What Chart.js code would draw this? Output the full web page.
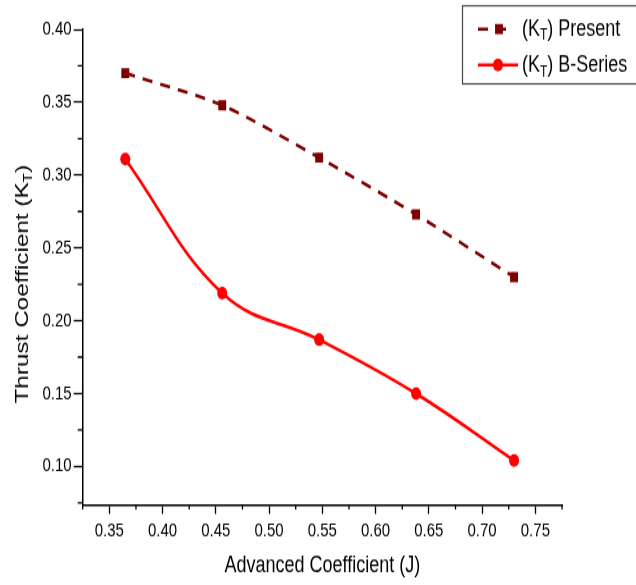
<!DOCTYPE html>
<html>
<head>
<meta charset="utf-8">
<script src="https://cdn.jsdelivr.net/npm/chart.js@4.4.1/dist/chart.umd.min.js"></script>
<style>
html,body{margin:0;padding:0;background:#fff}
body{width:636px;height:585px;overflow:hidden}
/* the reference picture is stretched vertically, so the whole canvas is too */
#wrap{width:636px;height:457px;transform:scaleY(1.28);transform-origin:0 0}
</style>
</head>
<body>
<div id="wrap"><canvas id="c" width="636" height="457"></canvas></div>
<script>
// valores
const advanceJ = [0.365, 0.456, 0.547, 0.638, 0.730];
const ktPresent = [0.370, 0.348, 0.312, 0.273, 0.230];
const ktBSeries = [0.311, 0.219, 0.187, 0.150, 0.104];
const xTickValues = [0.35, 0.40, 0.45, 0.50, 0.55, 0.60, 0.65, 0.70, 0.75];
const yTickValues = [0.10, 0.15, 0.20, 0.25, 0.30, 0.35, 0.40];

const FONT = 'Liberation Sans, Arial, sans-serif';

function toPoints(xs, ys){ return xs.map((x,i)=>({x:x, y:ys[i]})); }

// texto com subscrito: parts = [[texto, subscrito?], ...]
function partsWidth(ctx, parts, size, subSize){
  let w = 0;
  parts.forEach(p=>{
    ctx.font = (p[1] ? subSize : size) + 'px ' + FONT;
    w += ctx.measureText(p[0]).width;
  });
  return w;
}
function drawParts(ctx, parts, x, y, size, subSize){
  parts.forEach(p=>{
    ctx.font = (p[1] ? subSize : size) + 'px ' + FONT;
    ctx.fillText(p[0], x, p[1] ? y + size*0.3 : y);
    x += ctx.measureText(p[0]).width;
  });
}

// ticks menores nos dois eixos
const minorTicks = {
  id:'minorTicks',
  afterDraw(chart){
    const {ctx, scales:{x, y}} = chart;
    ctx.save();
    ctx.strokeStyle = '#000';
    ctx.lineWidth = 1.3;
    ctx.beginPath();
    for(let i=0;i<10;i++){
      const px = x.getPixelForValue(0.325 + i*0.05);
      ctx.moveTo(px, y.bottom); ctx.lineTo(px, y.bottom + 3.5);
    }
    for(let i=0;i<7;i++){
      const py = y.getPixelForValue(0.075 + i*0.05);
      ctx.moveTo(x.left, py); ctx.lineTo(x.left - 5, py);
    }
    ctx.stroke();
    ctx.restore();
  }
};

// título do eixo Y e legenda com subscrito
const labels = {
  id:'labels',
  afterDraw(chart){
    const ctx = chart.ctx;
    ctx.save();
    ctx.fillStyle = '#000';
    ctx.textBaseline = 'middle';
    ctx.textAlign = 'left';

    const yTitle = [['Thrust Coefficient (K',false],['T',true],[')',false]];
    ctx.translate(23, 222);
    ctx.rotate(-Math.PI/2);
    const w = partsWidth(ctx, yTitle, 19, 12);
    drawParts(ctx, yTitle, -w/2, 0, 19, 12);
    ctx.setTransform(1,0,0,1,0,0);

    // caixa da legenda
    ctx.strokeStyle = '#444';
    ctx.lineWidth = 1.2;
    ctx.strokeRect(462.5, 4.5, 200, 61);

    const entries = [
      {ds:chart.data.datasets[0], y:22.7, x0:478, x1:510, px:499, parts:[['(K',false],['T',true],[') Present',false]]},
      {ds:chart.data.datasets[1], y:50.8, x0:478, x1:518, px:498, parts:[['(K',false],['T',true],[') B-Series',false]]}
    ];
    entries.forEach(e=>{
      ctx.save();
      ctx.strokeStyle = e.ds.borderColor;
      ctx.lineWidth = e.ds.borderWidth;
      ctx.setLineDash(e.ds.borderDash || []);
      ctx.beginPath(); ctx.moveTo(e.x0, e.y); ctx.lineTo(e.x1, e.y); ctx.stroke();
      ctx.setLineDash([]);
      ctx.fillStyle = e.ds.pointBackgroundColor;
      Chart.helpers.drawPoint(ctx, {pointStyle:e.ds.pointStyle, radius:e.ds.pointRadius, rotation:0, borderWidth:0}, e.px, e.y);
      ctx.restore();
      ctx.fillStyle = '#000';
      drawParts(ctx, e.parts, 522, e.y, 18, 12);
    });
    ctx.restore();
  }
};

new Chart(document.getElementById('c'), {
  type:'line',
  data:{
    datasets:[
      {
        label:'(KT) Present',
        data:toPoints(advanceJ, ktPresent),
        borderColor:'#7f0000',
        borderWidth:2.6,
        borderDash:[10,8],
        tension:0.25,
        pointStyle:'rect',
        pointRadius:5.6,
        pointBackgroundColor:'#7f0000',
        pointBorderWidth:0
      },
      {
        label:'(KT) B-Series',
        data:toPoints(advanceJ, ktBSeries),
        borderColor:'#ff0000',
        borderWidth:2.6,
        tension:0.4,
        pointStyle:'circle',
        pointRadius:5,
        pointBackgroundColor:'#ff0000',
        pointBorderWidth:0
      }
    ]
  },
  options:{
    responsive:false,
    animation:false,
    devicePixelRatio:1,
    layout:{padding:{top:23, right:74, bottom:0, left:0}},
    plugins:{legend:{display:false}, tooltip:{enabled:false}},
    scales:{
      x:{
        type:'linear',
        min:0.325, max:0.775,
        afterBuildTicks:s=>{ s.ticks = xTickValues.map(v=>({value:v})); },
        afterFit:s=>{ s.height = 62.5; },
        grid:{drawOnChartArea:false, tickLength:7, tickColor:'#000', tickWidth:1.3},
        border:{color:'#000', width:1.5},
        ticks:{color:'#000', font:{family:FONT, size:15}, padding:4, maxRotation:0, callback:v=>v.toFixed(2)},
        title:{display:true, text:'Advanced Coefficient (J)', color:'#000', font:{family:FONT, size:18}, padding:{top:0, bottom:4}}
      },
      y:{
        type:'linear',
        min:0.0735, max:0.40,
        afterBuildTicks:s=>{ s.ticks = yTickValues.map(v=>({value:v})); },
        afterFit:s=>{ s.width = 82.7; },
        grid:{drawOnChartArea:false, tickLength:9, tickColor:'#000', tickWidth:1.3},
        border:{color:'#000', width:1.5},
        ticks:{color:'#000', font:{family:FONT, size:15}, padding:2, callback:v=>v.toFixed(2)}
      }
    }
  },
  plugins:[minorTicks, labels]
});
</script>
</body>
</html>
